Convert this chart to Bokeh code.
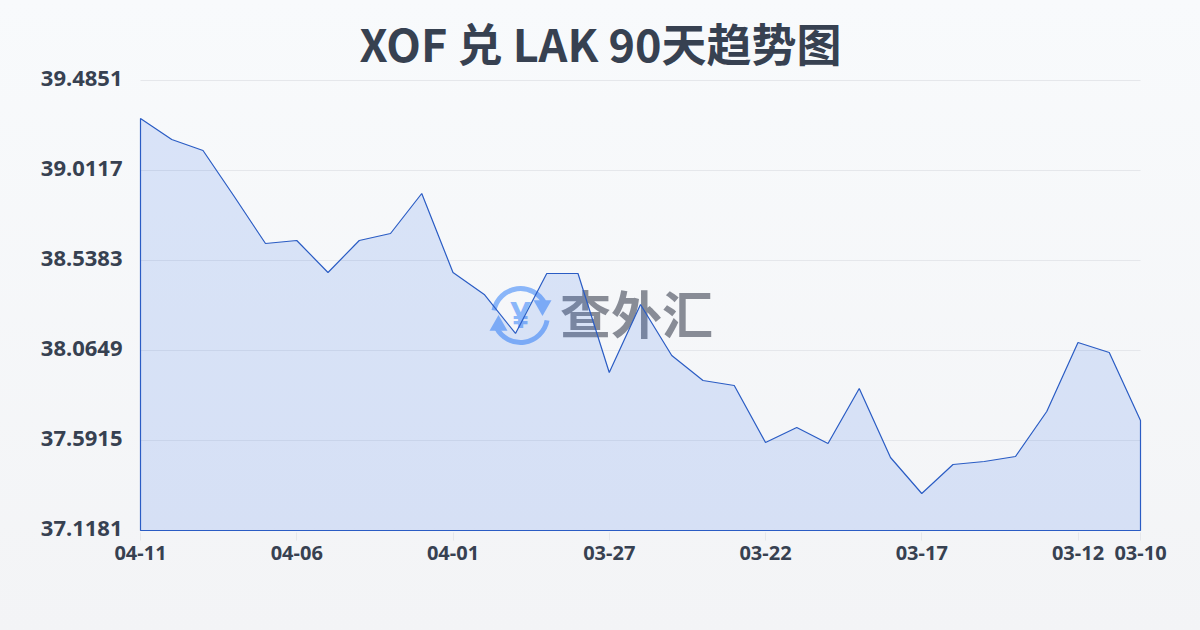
from bokeh.plotting import figure
from bokeh.models import Range1d, FixedTicker, Label
from bokeh.embed import file_html
from bokeh.resources import INLINE

TITLE = "XOF 兑 LAK 90天趋势图"
WATERMARK = "查外汇"
day_index = list(range(33))
rates = [39.2852, 39.1747, 39.1169, 38.8749, 38.6277, 38.6435, 38.4752, 38.6435,
         38.6803, 38.8907, 38.4752, 38.3595, 38.1544, 38.4699, 38.4699, 37.9492,
         38.3069, 38.0386, 37.9071, 37.8808, 37.5810, 37.6599, 37.5758, 37.8650,
         37.5021, 37.3128, 37.4653, 37.4811, 37.5074, 37.7441, 38.1070, 38.0544,
         37.6967]
rate_floor = 37.1181
rate_ceil = 39.4851
y_ticks = [39.4851, 39.0117, 38.5383, 38.0649, 37.5915, 37.1181]
x_ticks = [0, 5, 10, 15, 20, 25, 30, 32]
x_labels = ["04-11", "04-06", "04-01", "03-27", "03-22", "03-17", "03-12", "03-10"]

FONT = "Noto Sans"
CJK = "Noto Sans CJK SC"
DARK = "#374151"

# one pixel in data units; the frame reaches the top of the page so the title can sit in it
ux = 32 / 1000
uy = (rate_ceil - rate_floor) / 450
pad_x, pad_top, pad_bot = 2, 80, 2

p = figure(width=1200, height=630, output_backend="svg", toolbar_location=None,
           x_range=Range1d(-pad_x * ux, 32 + pad_x * ux),
           y_range=Range1d(rate_floor - pad_bot * uy, rate_ceil + pad_top * uy),
           min_border_left=140 - pad_x, min_border_right=60 - pad_x,
           min_border_top=80 - pad_top, min_border_bottom=100 - pad_bot,
           background_fill_alpha=0, border_fill_alpha=0)
p.outline_line_color = None
p.extra_x_ranges["px"] = Range1d(140 - pad_x, 1140 + pad_x)
p.extra_y_ranges["px"] = Range1d(530 + pad_bot, 80 - pad_top)
# labels sit two pixels above their grid lines
p.extra_y_ranges["ylab"] = Range1d(rate_floor - (pad_bot + 2) * uy, rate_ceil + (pad_top - 2) * uy)

p.xgrid.visible = False
p.ygrid.visible = False
p.segment(x0=[0] * len(y_ticks), x1=[32] * len(y_ticks), y0=y_ticks, y1=y_ticks,
          line_color="#e5e7eb", line_width=1, level="underlay")

p.yaxis.y_range_name = "ylab"
p.yaxis.ticker = FixedTicker(ticks=y_ticks)
p.yaxis.major_label_overrides = {v: f"{v:.4f}" for v in y_ticks}
p.yaxis.axis_line_color = None
p.yaxis.major_tick_line_color = None
p.yaxis.major_tick_out = 0
p.yaxis.major_tick_in = 0
p.yaxis.minor_tick_line_color = None
p.yaxis.major_label_standoff = 16
p.yaxis.major_label_text_font = FONT
p.yaxis.major_label_text_font_size = "22px"
p.yaxis.major_label_text_font_style = "bold"
p.yaxis.major_label_text_color = DARK

p.xaxis.ticker = FixedTicker(ticks=x_ticks)
p.xaxis.major_label_overrides = dict(zip(x_ticks, x_labels))
p.xaxis.axis_line_color = None
p.xaxis.major_tick_line_color = "#e5e7eb"
p.xaxis.major_tick_out = 8
p.xaxis.major_tick_in = 0
p.xaxis.minor_tick_line_color = None
p.xaxis.major_label_standoff = 5
p.xaxis.major_label_text_font = FONT
p.xaxis.major_label_text_font_size = "20px"
p.xaxis.major_label_text_font_style = "bold"
p.xaxis.major_label_text_color = DARK

# watermark, beneath the data
LOGO = "#8ab6f9"
p.arc(x=[520], y=[315], radius=[27], radius_units="screen",
      start_angle=[0.45], end_angle=[2.95], direction="anticlock",
      line_color=LOGO, line_width=5, x_range_name="px", y_range_name="px", level="underlay")
p.arc(x=[520], y=[315], radius=[27], radius_units="screen",
      start_angle=[3.6], end_angle=[6.1], direction="anticlock",
      line_color=LOGO, line_width=5, x_range_name="px", y_range_name="px", level="underlay")
p.scatter(x=[542, 498], y=[305, 325], size=18, marker="triangle", angle=[3.14, 0.0],
          fill_color=LOGO, line_color=None, x_range_name="px", y_range_name="px", level="underlay")
p.add_layout(Label(x=520, y=314, x_range_name="px", y_range_name="px", text="¥",
                   text_font=FONT, text_font_size="36px", text_font_style="bold",
                   text_color=LOGO, text_align="center", text_baseline="middle", level="underlay"))
p.add_layout(Label(x=636, y=311, x_range_name="px", y_range_name="px", text=WATERMARK,
                   text_font=CJK, text_font_size="51px", text_font_style="bold",
                   text_color="#888c96", text_align="center", text_baseline="middle", level="underlay"))

# area with its closed outline
xs = [day_index[0]] + day_index + [day_index[-1]]
ys = [rate_floor] + rates + [rate_floor]
p.patch(xs, ys, fill_color="#2563eb", fill_alpha=0.14, line_color="#2a5cc4", line_width=1.2)

p.add_layout(Label(x=600, y=42, x_range_name="px", y_range_name="px", text=TITLE,
                   text_font=CJK, text_font_size="45px", text_font_style="bold",
                   text_color=DARK, text_align="center", text_baseline="middle"))

html = file_html(p, INLINE)
html = html.replace("<head>", "<head><style>html{background:linear-gradient(180deg,#f8fafc,#f3f4f6);min-height:100%}body{background:transparent}</style>", 1)
open("out.html", "w").write(html)
